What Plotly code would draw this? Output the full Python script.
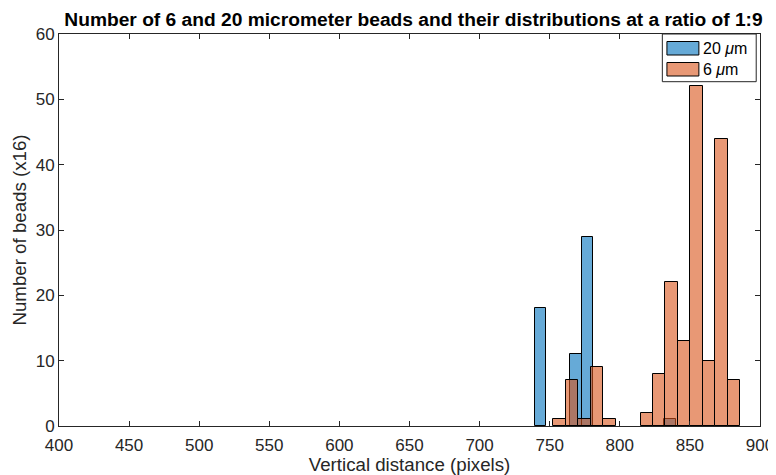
import numpy as np
import plotly.graph_objects as go

# ---- data ----
blue_label = "20 <i>μ</i>m"
blue_start = 739.2      # first bin edge
blue_binwidth = 8.4
blue_counts = [18, 0, 0, 11, 29, 0, 0, 0, 0, 0, 0, 1]

orange_label = "6 <i>μ</i>m"
orange_start = 752.4
orange_binwidth = 8.91
orange_counts = [1, 7, 1, 9, 1, 0, 0, 2, 8, 22, 13, 52, 10, 44, 7]

x_ticks = [400, 450, 500, 550, 600, 650, 700, 750, 800, 850, 900]
y_ticks = [0, 10, 20, 30, 40, 50, 60]

title = "Number of 6 and 20 micrometer beads and their distributions at a ratio of 1:9"
x_title = "Vertical distance (pixels)"
y_title = "Number of beads (x16)"


def centres(start, width, n):
    return [start + width * (i + 0.5) for i in range(n)]


def edge_widths(counts):
    # no outline on empty bins (they would thicken the axis line)
    return [1 if c > 0 else 0 for c in counts]


FONT = "Liberation Sans, Arial, Helvetica, sans-serif"
TXT = "rgb(38,38,38)"
BLUE = "rgba(0,114,189,0.6)"
ORANGE = "rgba(217,83,25,0.6)"

# figure geometry (page has an 8px body margin)
W, H = 768, 467
L, R, T, B = 50.5, 15.5, 26, 49
PW, PH = W - L - R, H - T - B


def px(fx):   # figure pixel x -> paper x
    return (fx - L) / PW


def py(fy):   # figure pixel y (from top) -> paper y
    return (H - B - fy) / PH


fig = go.Figure()
fig.add_trace(go.Bar(
    x=centres(blue_start, blue_binwidth, len(blue_counts)),
    y=blue_counts, width=blue_binwidth, name=blue_label,
    marker=dict(color=BLUE, line=dict(color="black", width=edge_widths(blue_counts))),
))
fig.add_trace(go.Bar(
    x=centres(orange_start, orange_binwidth, len(orange_counts)),
    y=orange_counts, width=orange_binwidth, name=orange_label,
    marker=dict(color=ORANGE, line=dict(color="black", width=edge_widths(orange_counts))),
))

# legend drawn as a MATLAB-style box
shapes = [
    dict(type="rect", xref="paper", yref="paper", layer="above",
         x0=px(654.7), x1=px(748.7), y0=py(73.7), y1=py(26),
         fillcolor="white", line=dict(color=TXT, width=1)),
    dict(type="rect", xref="paper", yref="paper", layer="above",
         x0=px(659.3), x1=px(691.3), y0=py(47), y1=py(33.5),
         fillcolor="rgb(102,170,215)", line=dict(color="black", width=1)),
    dict(type="rect", xref="paper", yref="paper", layer="above",
         x0=px(659.3), x1=px(691.3), y0=py(68), y1=py(54.5),
         fillcolor="rgb(232,152,117)", line=dict(color="black", width=1)),
]
annotations = [
    dict(text=blue_label, xref="paper", yref="paper", x=px(693), y=py(40.5),
         xanchor="left", yanchor="middle", showarrow=False,
         font=dict(size=16, color="black")),
    dict(text=orange_label, xref="paper", yref="paper", x=px(693), y=py(61.5),
         xanchor="left", yanchor="middle", showarrow=False,
         font=dict(size=16, color="black")),
]

fig.update_layout(
    width=W, height=H,
    barmode="overlay",
    paper_bgcolor="white", plot_bgcolor="white",
    margin=dict(l=L, r=R, t=T, b=B, pad=0),
    font=dict(family=FONT, color=TXT, size=17),
    title=dict(text="<b>" + title + "</b>", x=405.5 / W, xanchor="center",
               y=1 - 11.5 / H, yanchor="middle",
               font=dict(family=FONT, size=19.2, color="black")),
    showlegend=False,
    shapes=shapes, annotations=annotations,
    bargap=0,
)
fig.update_xaxes(
    range=[400, 900], tickvals=x_ticks, ticktext=[str(v) for v in x_ticks],
    ticks="inside", ticklen=5, tickcolor=TXT, mirror="ticks",
    showline=True, linecolor=TXT, linewidth=1, showgrid=False, zeroline=False,
    automargin=False, ticklabelstandoff=4,
    title=dict(text=x_title, font=dict(size=18.7, color=TXT), standoff=4),
    tickfont=dict(size=17, color=TXT),
)
fig.update_yaxes(
    range=[0, 60], tickvals=y_ticks, ticktext=[str(v) for v in y_ticks],
    ticks="inside", ticklen=5, tickcolor=TXT, mirror="ticks",
    showline=True, linecolor=TXT, linewidth=1, showgrid=False, zeroline=False,
    automargin=False,
    title=dict(text=y_title, font=dict(size=18.7, color=TXT), standoff=4),
    tickfont=dict(size=17, color=TXT),
)

fig.write_html("out.html")
